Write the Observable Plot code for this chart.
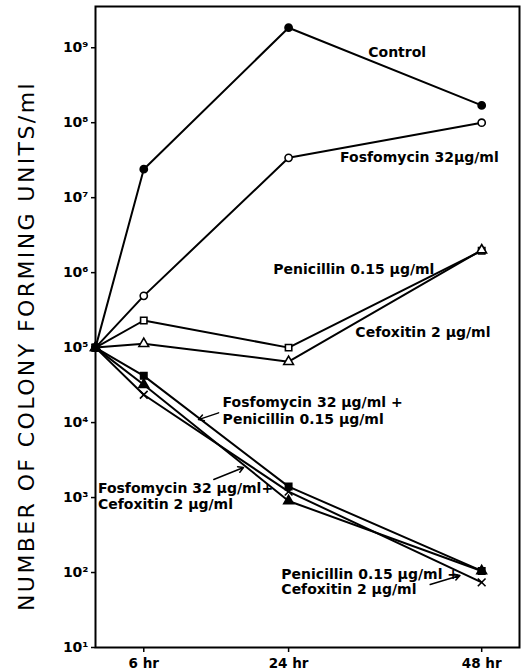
<!DOCTYPE html>
<html>
<head>
<meta charset="utf-8">
<script src="https://cdn.jsdelivr.net/npm/d3@7"></script>
<script src="https://cdn.jsdelivr.net/npm/@observablehq/plot@0.6"></script>
<style>
  html, body { margin: 0; padding: 0; background: #fff; }
  #chart svg { display: block; }
</style>
</head>
<body>
<div id="chart"></div>
<script>
// ---- data ----
const hours = [0, 6, 24, 48];
const hourLabels = ["", "6 hr", "24 hr", "48 hr"];
const yTicks = [1e1, 1e2, 1e3, 1e4, 1e5, 1e6, 1e7, 1e8, 1e9];

const control       = [1e5, 2.4e7, 1.85e9, 1.7e8];
const fosfomycin    = [1e5, 4.9e5, 3.4e7, 1.0e8];
const penicillin    = [1e5, 2.3e5, 1.0e5, 1.96e6];
const cefoxitin     = [1e5, 1.13e5, 6.5e4, 2.0e6];
const fosPen        = [1e5, 4.2e4, 1.4e3, 1.05e2];
const fosCef        = [1e5, 3.2e4, 9.0e2, 1.05e2];
const penCef        = [1e5, 2.35e4, 1.2e3, 7.4e1];

const seriesNames   = ["Control", "Fosfomycin", "Penicillin", "Cefoxitin", "Fos+Pen", "Fos+Cef", "Pen+Cef"];
const seriesValues  = [control, fosfomycin, penicillin, cefoxitin, fosPen, fosCef, penCef];
const seriesSymbols = ["circle", "circle", "square", "triangle", "square", "triangle", "times"];
const seriesFilled  = [true, false, false, false, true, true, true];

const yTitle = "NUMBER OF COLONY FORMING UNITS/ml";

// annotation labels: [hour, log10 value, text]
const labelTexts = ["Control", "Fosfomycin 32µg/ml", "Penicillin 0.15 µg/ml", "Cefoxitin 2 µg/ml",
  "Fosfomycin 32 µg/ml +", "Penicillin 0.15 µg/ml",
  "Fosfomycin 32 µg/ml+", "Cefoxitin 2 µg/ml",
  "Penicillin 0.15 µg/ml +", "Cefoxitin 2 µg/ml"];
const labelHours = [33.9, 30.4, 22.1, 32.3, 15.8, 15.8, 0.3, 0.3, 23.1, 23.1];
const labelLogs  = [8.93, 7.53, 6.04, 5.2, 4.27, 4.04, 3.12, 2.91, 1.97, 1.77];

// arrows: from (h1, log1) to (h2, log2)
const arrowH1 = [15.3, 14.7, 41.6];
const arrowL1 = [4.13, 3.24, 1.84];
const arrowH2 = [12.8, 18.4, 45.3];
const arrowL2 = [4.04, 3.40, 1.96];

// ---- build tables ----
const points = [];
seriesNames.forEach((name, i) => {
  hours.forEach((h, j) => points.push({series: name, hour: h, value: seriesValues[i][j],
    symbol: seriesSymbols[i], filled: seriesFilled[i]}));
});
const labels = labelTexts.map((t, i) => ({text: t, hour: labelHours[i], value: 10 ** labelLogs[i]}));
const arrows = arrowH1.map((h, i) => ({x1: h, y1: 10 ** arrowL1[i], x2: arrowH2[i], y2: 10 ** arrowL2[i]}));

const sup = {"1":"¹","2":"²","3":"³","4":"⁴","5":"⁵","6":"⁶","7":"⁷","8":"⁸","9":"⁹"};
const font = "DejaVu Sans, sans-serif";

const chart = Plot.plot({
  width: 526,
  height: 672,
  marginLeft: 95,
  marginRight: 7,
  marginTop: 6,
  marginBottom: 25,
  style: {fontFamily: font, background: "#fff", color: "#000"},
  x: {domain: [0, 52.7]},
  y: {type: "log", domain: [10, 10 ** 9.55]},
  marks: [
    Plot.frame({stroke: "#000", strokeWidth: 2}),
    Plot.axisY({ticks: yTicks, tickSize: 4, tickPadding: 3, fontSize: 14, fontWeight: "bold",
      tickFormat: d => "10" + sup[String(Math.round(Math.log10(d)))], label: null, strokeWidth: 1.5}),
    Plot.axisX({ticks: hours.slice(1), tickSize: 5, tickPadding: 6, fontSize: 13.5, fontWeight: "bold",
      tickFormat: d => hourLabels[hours.indexOf(d)], label: null, strokeWidth: 1.5}),
    Plot.text([yTitle], {frameAnchor: "left", textAnchor: "middle",
      rotate: -90, dx: -69, dy: 19,
      fontSize: 22, fontWeight: 500, fill: "#000"}),
    Plot.line(points, {x: "hour", y: "value", z: "series", stroke: "#000", strokeWidth: 2}),
    Plot.dot(points, {x: "hour", y: "value", symbol: "symbol", r: 3.6, stroke: "#000", strokeWidth: 1.6,
      fill: d => d.filled ? "#000" : "#fff"}),
    Plot.text(labels, {x: "hour", y: "value", text: "text", textAnchor: "start", fontSize: 14,
      fontWeight: "bold", fill: "#000"}),
    Plot.arrow(arrows, {x1: "x1", y1: "y1", x2: "x2", y2: "y2", stroke: "#000", strokeWidth: 1.5,
      headLength: 6, insetEnd: 0})
  ]
});
d3.select(chart).selectAll("text")
  .filter(function() { return this.textContent === yTitle; })
  .style("letter-spacing", "2.4px");
document.getElementById("chart").appendChild(chart);
</script>
</body>
</html>
